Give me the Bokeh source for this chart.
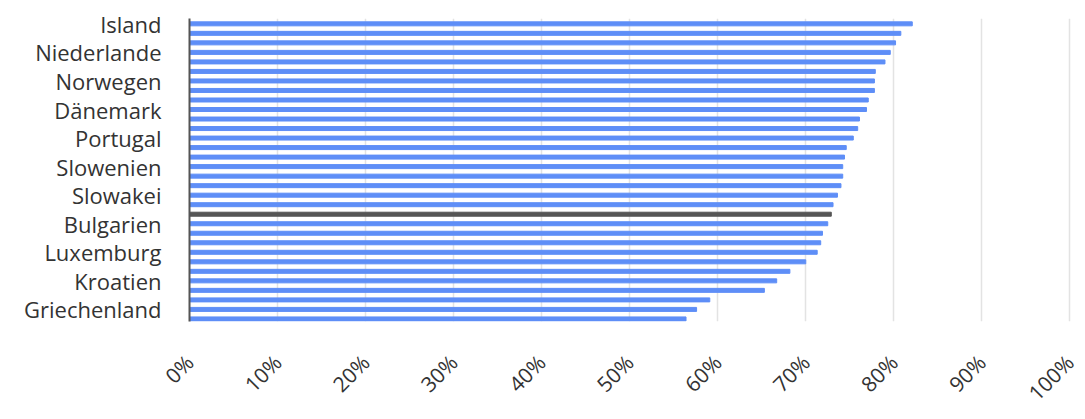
import math
from bokeh.plotting import figure
from bokeh.models import ColumnDataSource, FixedTicker, PrintfTickFormatter, Range1d
from bokeh.embed import file_html
from bokeh.resources import INLINE

countries = ["Island", "Schweiz", "Schweden", "Niederlande", "Tschechien", "Deutschland",
             "Norwegen", "Estland", "Malta", "Dänemark", "Litauen", "Ungarn",
             "Portugal", "Lettland", "Finnland", "Slowenien", "Polen", "Zypern",
             "Slowakei", "Österreich", "EU", "Bulgarien", "Irland", "Frankreich",
             "Luxemburg", "Belgien", "Spanien", "Kroatien", "Rumänien", "Türkei",
             "Griechenland", "Italien"]
values = [82.1, 80.8, 80.2, 79.6, 79.0, 77.9, 77.8, 77.8, 77.1, 76.9, 76.1, 75.9,
          75.4, 74.6, 74.4, 74.2, 74.2, 74.0, 73.6, 73.1, 72.9, 72.5, 71.9, 71.7,
          71.3, 70.0, 68.2, 66.7, 65.3, 59.1, 57.6, 56.4]
highlight = "EU"
x_ticks = [0, 10, 20, 30, 40, 50, 60, 70, 80, 90, 100]

idx = list(range(len(countries)))
colors = ["#555555" if c == highlight else "#5e8ef7" for c in countries]
src = ColumnDataSource(dict(y=idx, v=values, c=colors, name=countries))

p = figure(width=1080, height=419, output_backend="svg", toolbar_location=None,
           x_range=Range1d(0, 100.3), y_range=Range1d(31.27, -0.56),
           min_border_left=189, min_border_right=8, min_border_top=18, min_border_bottom=94)
p.outline_line_color = None
p.hbar(y="y", left=0, right="v", height=0.42, color="c", source=src)

p.xaxis.ticker = FixedTicker(ticks=x_ticks)
p.xaxis.formatter = PrintfTickFormatter(format="%d%%")
p.xaxis.major_label_orientation = math.pi / 4
p.xaxis.axis_line_color = None
p.xaxis.major_tick_line_color = None
p.xaxis.minor_tick_line_color = None
p.xaxis.major_label_text_font = "Open Sans"
p.xaxis.major_label_text_font_size = "21px"
p.xaxis.major_label_text_color = "#333333"
p.xaxis.major_label_standoff = 31

p.yaxis.ticker = FixedTicker(ticks=idx[::3])
p.yaxis.major_label_overrides = {i: countries[i] for i in idx[::3]}
p.yaxis.axis_line_color = "#555555"
p.yaxis.axis_line_width = 2
p.yaxis.major_tick_line_color = None
p.yaxis.minor_tick_line_color = None
p.yaxis.major_label_text_font = "Open Sans"
p.yaxis.major_label_text_font_size = "22px"
p.yaxis.major_label_text_color = "#333333"
p.yaxis.major_label_standoff = 22

p.xgrid.grid_line_color = "#e3e3e3"
p.xgrid.grid_line_width = 1.5
p.ygrid.grid_line_color = None

open("out.html", "w").write(file_html(p, INLINE))
